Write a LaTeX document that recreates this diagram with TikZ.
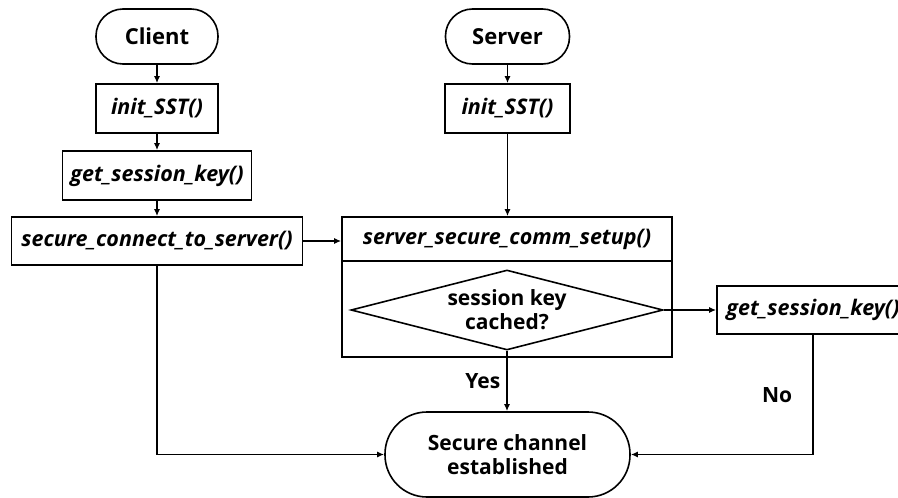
\documentclass[tikz,border=0pt]{standalone}
\usepackage{fontspec}
\setmainfont{Open Sans}
\usepackage{tikz}
\usetikzlibrary{arrows.meta}
\usetikzlibrary{shapes.geometric}

\begin{document}
\begin{tikzpicture}[x=1pt,y=-1pt,line width=1.6pt,
  term/.style={draw,rounded corners=27pt,minimum width=122pt,minimum height=55pt,inner sep=0pt,
    font=\fontsize{22}{24}\selectfont\bfseries},
  func/.style={draw,minimum height=48pt,inner sep=0pt,
    font=\fontsize{21.5}{24}\selectfont\bfseries\itshape},
  lbl/.style={inner sep=0pt,font=\fontsize{21}{24}\selectfont\bfseries},
  flow/.style={-{Latex[length=7pt,width=6pt]}}]
  \useasboundingbox (0,0) rectangle (898,498);
  % client column
  \node[term] (client) at (157,36.5) {Client};
  \node[func,minimum width=122pt,minimum height=49pt] (cinit) at (157,108.5) {init\_SST()};
  \node[func,minimum width=189pt,minimum height=49pt] (ckey) at (157,175.5) {get\_session\_key()};
  \node[func,minimum width=291pt] (cconn) at (157,241) {secure\_connect\_to\_server()};
  % server column
  \node[term,minimum width=124pt] (server) at (507.5,36.5) {Server};
  \node[func,minimum width=125pt,minimum height=49pt] (sinit) at (507.5,108.5) {init\_SST()};
  \node[func,minimum width=330pt,minimum height=44pt] (setup) at (507,239) {server\_secure\_comm\_setup()};
  \node[draw,minimum width=330pt,minimum height=96pt,inner sep=0pt] (setupbody) at (507,309) {};
  \node[draw,diamond,minimum width=312pt,minimum height=80pt,inner sep=0pt] (cached) at (507,310) {};
  \node[lbl,align=center] (cachedtext) at (cached.center) {session key\\cached?};
  \node[func,minimum width=192pt] (skey) at (813,310) {get\_session\_key()};
  \node[term,font=\fontsize{21}{24}\selectfont\bfseries,rounded corners=42pt,minimum width=245pt,minimum height=85pt,align=center] (done) at (507.5,454.5)
    {Secure channel\\established};

  \foreach \a/\b in {client/cinit, cinit/ckey, ckey/cconn, server/sinit, sinit/setup}
    \draw[flow] (\a.south) -- (\a.south |- \b.north);
  \draw[flow] (cconn.east) -- (cconn.east -| setup.west);
  \draw[flow] (cached.east) -- (skey.west);
  \draw[flow] (cached.south) -- node[lbl,left=6pt] (yes) {Yes} (cached.south |- done.north);
  \draw[flow] (skey.south) |- node[lbl,pos=0.25,left=20pt] (no) {No} (done.east);
  \draw[flow] (cconn.south) |- (done.west);
\end{tikzpicture}
\end{document}
